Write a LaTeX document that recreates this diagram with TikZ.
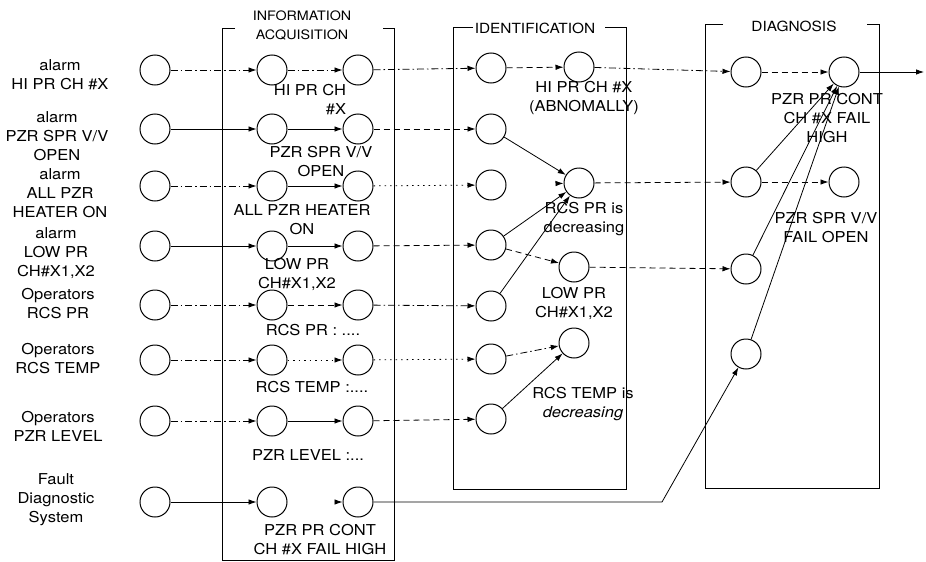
\documentclass[tikz,border=0pt]{standalone}
\usepackage{fontspec}
\setmainfont[FakeStretch=1.1]{TeX Gyre Heros}
\usetikzlibrary{arrows.meta}
\begin{document}
\begin{tikzpicture}[x=1pt,y=-1pt,
  st/.style={circle,draw,line width=1pt,minimum size=30pt,inner sep=0pt},
  lbl/.style={align=center,font=\fontsize{15}{19}\selectfont,inner sep=0pt},
  ttl/.style={align=center,font=\fontsize{14}{18}\selectfont,inner sep=0pt},
  con/.style={line width=0.8pt,-{Latex[length=8pt,width=5.5pt]}},
  dd/.style={dash pattern=on 7pt off 3pt on 1.5pt off 3pt},
  ds/.style={dash pattern=on 6pt off 4pt},
  dt/.style={dash pattern=on 1.5pt off 4pt},
  hid/.style={dash pattern=on 0pt off 500pt},
  frame/.style={line width=0.9pt}]
\useasboundingbox (0,0) rectangle (926,562);

% ---- left column sources
\node[st] (s1) at (155,70) {};
\node[st] (s2) at (155,129) {};
\node[st] (s3) at (155,186) {};
\node[st] (s4) at (155,246) {};
\node[st] (s5) at (155,305) {};
\node[st] (s6) at (155,360) {};
\node[st] (s7) at (155,421) {};
\node[st] (s8) at (155,502) {};
\node[lbl] (t1) at (60,75) {alarm\\HI PR CH \#X};
\node[lbl] (t2) at (57,136) {alarm\\PZR SPR V/V\\OPEN};
\node[lbl] (t3) at (60,193) {alarm\\ALL PZR\\HEATER ON};
\node[lbl] (t4) at (56,253) {alarm\\LOW PR\\CH\#X1,X2};
\node[lbl] (t5) at (58,304) {Operators\\RCS PR};
\node[lbl] (t6) at (58,359) {Operators\\RCS TEMP};
\node[lbl] (t7) at (58,426) {Operators\\PZR LEVEL};
\node[lbl] (t8) at (56,500) {Fault\\Diagnostic\\System};

% ---- information acquisition
\draw[frame] (235,28) -- (222,28) -- (222,560) -- (394,560) -- (394,28) -- (383,28);
\node[align=center,inner sep=0pt,font=\fontsize{13}{19}\selectfont] (tia) at (302,25) {INFORMATION\\ACQUISITION};
\foreach \i/\y in {1/70,2/129,3/186,4/246,5/305,6/360,7/421,8/502}{
  \node[st] (a\i) at (272,\y) {};
  \node[st] (b\i) at (358,\y) {};
}
\node[lbl,align=right] (la1) at (310,100) {HI PR CH\\\#X};
\node[lbl] (la2) at (321,162) {PZR SPR V/V\\OPEN};
\node[lbl] (la3) at (302,220) {ALL PZR HEATER\\ON};
\node[lbl] (la4) at (297,274) {LOW PR\\CH\#X1,X2};
\node[lbl] (la5) at (313,330) {RCS PR : ....};
\node[lbl] (la6) at (312,387) {RCS TEMP :....};
\node[lbl] (la7) at (308,455) {PZR LEVEL :...};
\node[lbl] (la8) at (320,540) {PZR PR CONT\\CH \#X FAIL HIGH};

% ---- identification
\draw[frame] (473,27) -- (453,27) -- (453,489) -- (626,489) -- (626,27) -- (605,27);
\node[ttl] (tid) at (535,28) {IDENTIFICATION};
\foreach \i/\y in {1/68,2/129,3/185,4/245,5/306,6/359,7/419}{
  \node[st] (c\i) at (491,\y) {};
}
\node[st] (hi) at (579,67) {};
\node[st] (rp) at (579,183) {};
\node[st] (lp) at (574,267) {};
\node[st] (rt) at (574,343) {};
\node[lbl] (lhi) at (584,98) {HI PR CH \#X\\(ABNOMALLY)};
\node[lbl] (lrp) at (584,219) {RCS PR is\\decreasing};
\node[lbl] (llp) at (574,303) {LOW PR\\CH\#X1,X2};
\node[lbl] (lrt) at (583,404) {RCS TEMP is\\\itshape decreasing};

% ---- diagnosis
\draw[frame] (723,24) -- (705,24) -- (705,488) -- (879,488) -- (879,24) -- (867,24);
\node[ttl] (tdg) at (794,26) {DIAGNOSIS};
\node[st] (d1) at (746,72) {};
\node[st] (d2) at (746,182) {};
\node[st] (d3) at (746,269) {};
\node[st] (d4) at (746,354) {};
\node[st] (e1) at (844,72) {};
\node[st] (e2) at (844,182) {};
\node[lbl] (le1) at (827,118) {PZR PR CONT\\CH \#X FAIL\\HIGH};
\node[lbl] (le2) at (826,228) {PZR SPR V/V\\FAIL OPEN};
\coordinate (out) at (924,72);
\coordinate (bend) at (662,502);

% ---- sources -> information acquisition
\draw[con,dd] (s1) -- (a1);
\draw[con] (s2) -- (a2);
\draw[con,dd] (s3) -- (a3);
\draw[con] (s4) -- (a4);
\draw[con,dd] (s5) -- (a5);
\draw[con,dd] (s6) -- (a6);
\draw[con,dd] (s7) -- (a7);
\draw[con] (s8) -- (a8);

% ---- inside information acquisition
\draw[con,dd] (a1) -- (b1);
\draw[con] (a2) -- (b2);
\draw[con] (a3) -- (b3);
\draw[con] (a4) -- (b4);
\draw[con,ds] (a5) -- (b5);
\draw[con,dt] (a6) -- (b6);
\draw[con] (a7) -- (b7);
\draw[con,hid] (a8) -- (b8);

% ---- information acquisition -> identification
\draw[con,dd] (b1) -- (c1);
\draw[con,ds] (b2) -- (c2);
\draw[con,dt] (b3) -- (c3);
\draw[con,ds] (b4) -- (c4);
\draw[con,dd] (b5) -- (c5);
\draw[con,dt] (b6) -- (c6);
\draw[con,ds] (b7) -- (c7);

% ---- inside identification
\draw[con,ds] (c1) -- (hi);
\draw[con] (c2) -- (rp);
\draw[con,hid] (c3) -- (rp);
\draw[con] (c4) -- (rp);
\draw[con,ds] (c4) -- (lp);
\draw[con] (c5) -- (rp);
\draw[con,dd] (c6) -- (rt);
\draw[con] (c7) -- (rt);

% ---- identification -> diagnosis
\draw[con,dd] (hi) -- (d1);
\draw[con,ds] (rp) -- (d2);
\draw[con,ds] (lp) -- (d3);

% ---- inside diagnosis
\draw[con,ds] (d1) -- (e1);
\draw[con] (d2) -- (e1);
\draw[con,ds] (d2) -- (e2);
\draw[con] (d3) -- (e1);
\draw[con] (d4) -- (e1);
\draw[con] (e1) -- (out);

% ---- fault diagnostic path
\draw[con] (b8) -- (bend) -- (d4);
\end{tikzpicture}
\end{document}
